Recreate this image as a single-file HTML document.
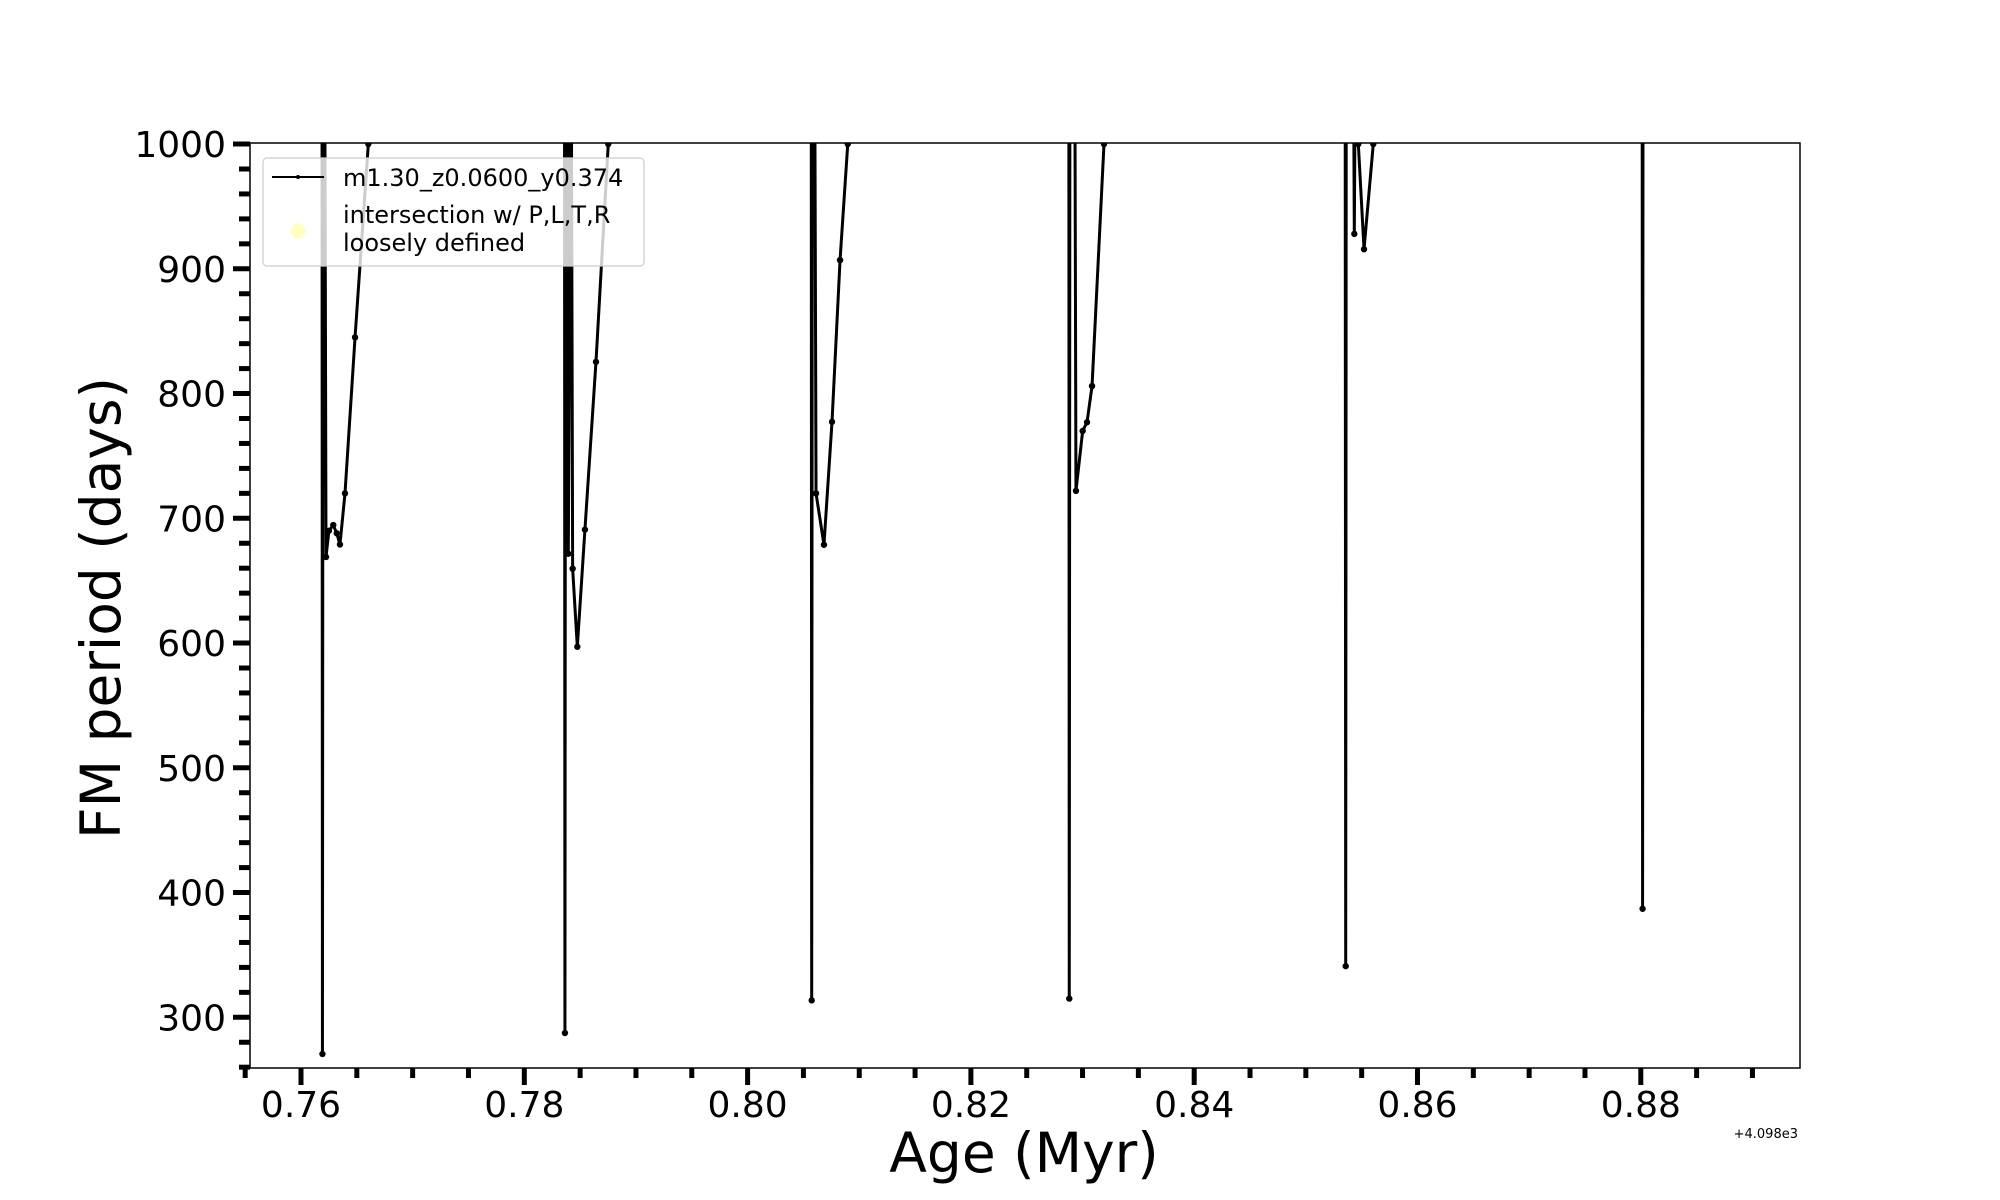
<!DOCTYPE html>
<html><head><meta charset="utf-8"><style>
html,body{margin:0;padding:0;background:#fff;}
svg{display:block;font-family:"DejaVu Sans","Liberation Sans",sans-serif;}
</style></head><body>
<svg id="chart" width="2000" height="1200" viewBox="0 0 2000 1200" xmlns="http://www.w3.org/2000/svg">
<defs><clipPath id="plotclip"><rect x="250" y="143" width="1550" height="925"/></clipPath></defs>
<rect x="0" y="0" width="2000" height="1200" fill="#fff"/>
<g id="series" clip-path="url(#plotclip)"></g>
<rect x="250" y="143" width="1550" height="925" fill="none" stroke="#000" stroke-width="1.5"/>
<g id="xticks"></g>
<g id="yticks"></g>
<text x="1024" y="1172" font-size="55" text-anchor="middle">Age (Myr)</text>
<text transform="translate(120,608) rotate(-90)" font-size="55" text-anchor="middle">FM period (days)</text>
<text x="1798" y="1138" font-size="13" text-anchor="end">+4.098e3</text>
<g>
<rect x="263" y="158" width="381" height="108" rx="4" fill="#fff" fill-opacity="0.8" stroke="#ccc" stroke-width="1.2"/>
<line x1="272" y1="177" x2="324" y2="177" stroke="#000" stroke-width="2"/>
<circle cx="298" cy="177" r="2" fill="#000"/>
<text x="343" y="186" font-size="24">m1.30_z0.0600_y0.374</text>
<circle cx="298" cy="231" r="7.5" fill="#ffff99" fill-opacity="0.6"/>
<text x="343" y="223" font-size="24">intersection w/ P,L,T,R</text>
<text x="343" y="251" font-size="24">loosely defined</text>
</g>
</svg>
<script>
// Data (age offset from 4098 Myr, FM period in days); 1100 = off-chart above
const ages = [
 0.76188,0.76192,0.76198,0.76212,0.76224,0.76250,0.76289,0.76320,0.76349,0.76394,0.76484,0.76603,0.76700,
 0.78360,0.78364,0.78370,0.78385,0.78394,0.78420,0.78433,0.78475,0.78543,0.78642,0.78752,0.78850,
 0.80570,0.80574,0.80580,0.80600,0.80613,0.80684,0.80756,0.80828,0.80897,0.81000,
 0.82877,0.82881,0.82887,0.82930,0.82941,0.83001,0.83040,0.83085,0.83192,0.83300,
 0.85352,0.85357,0.85362,0.85425,0.85434,0.85445,0.85470,0.85521,0.85604,0.85700,
 0.88012,0.88016,0.88020
];
const periods = [
 1100,270.6,1100,1100,669,690,694.6,688,679,720,845,1000,1100,
 1100,287.4,1100,1100,671.6,1100,659.6,597,690.9,825.4,1000,1100,
 1100,313.6,1100,1100,720,678.8,777.3,907,1000,1100,
 1100,315,1100,1100,722,770,777,806,1000,1100,
 1100,341,1100,1100,928,1100,1000,915.7,1000,1100,
 1100,387,1100
];
const xTickLabels = ["0.76","0.78","0.80","0.82","0.84","0.86","0.88"];
const yTickLabels = ["300","400","500","600","700","800","900","1000"];

const NS="http://www.w3.org/2000/svg";
function xs(v){return 301+(v-0.76)*11165;}
function ys(v){return 1017.3-(v-300)*1.2475;}
function mk(tag,attrs,parent){const e=document.createElementNS(NS,tag);for(const k in attrs)e.setAttribute(k,attrs[k]);parent.appendChild(e);return e;}

const series=document.getElementById('series');
let d='';
for(let i=0;i<ages.length;i++){d+=(i?'L':'M')+xs(ages[i]).toFixed(2)+' '+ys(periods[i]).toFixed(2);}
const path=mk('path',{d:d,fill:'none',stroke:'#000','stroke-width':3,'stroke-linejoin':'round'},series);


for(let i=0;i<ages.length;i++){
 const c=mk('circle',{cx:xs(ages[i]),cy:ys(periods[i]),r:3.2,fill:'#000'},series);
 
 
}

const xg=document.getElementById('xticks');
for(let v=0.755;v<=0.8941;v+=0.005){
 const vv=Math.round(v*1000)/1000;
 const major=Math.abs(vv*100-Math.round(vv*100))<1e-6&&Math.round(vv*100)%2===0;
 const t=mk('line',{x1:xs(vv),x2:xs(vv),y1:1068,y2:1068+(major?17:10),stroke:'#000','stroke-width':5},xg);
 
 
}
xTickLabels.forEach(function(l){
 const t=mk('text',{x:xs(parseFloat(l)),y:1117,'font-size':36,'text-anchor':'middle'},xg);
 t.textContent=l;
 
 
});

const yg=document.getElementById('yticks');
for(let v=260;v<=1000;v+=20){
 const major=v%100===0;
 const t=mk('line',{x1:250-(major?17:11),x2:250,y1:ys(v),y2:ys(v),stroke:'#000','stroke-width':5},yg);
 
 
}
yTickLabels.forEach(function(l){
 const t=mk('text',{x:226,y:ys(parseFloat(l))+13,'font-size':36,'text-anchor':'end'},yg);
 t.textContent=l;
 
 
});
</script>
</body></html>
